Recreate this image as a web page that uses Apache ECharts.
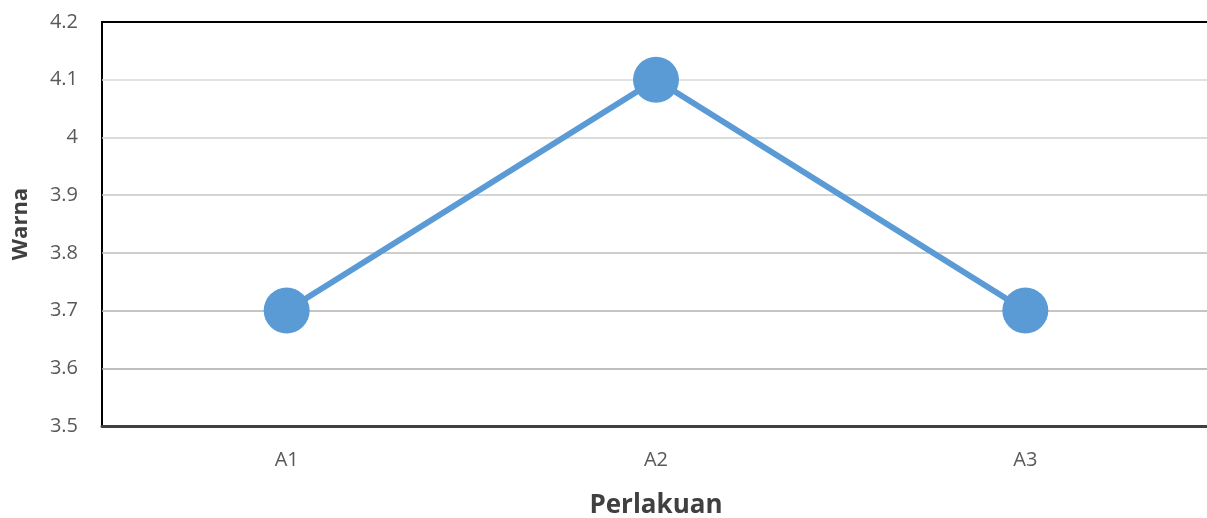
<!DOCTYPE html>
<html>
<head>
<meta charset="utf-8">
<script src="https://cdn.jsdelivr.net/npm/echarts@6/dist/echarts.min.js"></script>
<style>
  html, body { margin: 0; padding: 0; background: #fff; }
  #chart { width: 1207px; height: 518px; }
</style>
</head>
<body>
<div id="chart"></div>
<script>
const categories = ['A1', 'A2', 'A3'];
const warna = [3.7, 4.1, 3.7];
const yMin = 3.5;
const yMax = 4.2;
const yStep = 0.1;
// gridlines get darker towards the bottom, from 3.5 upwards
const gridColors = ['#a0a0a0', '#a8a8a8', '#b2b2b2', '#bcbcbc', '#c6c6c6', '#cfcfcf', '#d9d9d9', '#000000'];

const chart = echarts.init(document.getElementById('chart'));
const textColor = '#595959';
const fontFamily = '"Open Sans", "Noto Sans", sans-serif';

chart.setOption({
  animation: false,
  backgroundColor: '#fff',
  grid: {
    left: 102,
    top: 22,
    width: 1108,
    height: 404,
    outerBoundsMode: 'none',
    containLabel: false,
    show: true,
    borderColor: '#000',
    borderWidth: 2,
    backgroundColor: 'transparent'
  },
  xAxis: {
    type: 'category',
    data: categories,
    boundaryGap: true,
    name: 'Perlakuan',
    nameLocation: 'middle',
    nameGap: 67,
    nameTextStyle: { color: '#404040', fontSize: 26, fontWeight: 'bold', fontFamily },
    axisLine: { lineStyle: { color: '#404040', width: 3 } },
    axisTick: { show: false },
    axisLabel: { color: textColor, fontSize: 20, fontFamily, margin: 24 },
    splitLine: { show: false }
  },
  yAxis: {
    type: 'value',
    min: yMin,
    max: yMax,
    interval: yStep,
    name: 'Warna',
    nameLocation: 'middle',
    nameGap: 70,
    nameTextStyle: { color: '#404040', fontSize: 22, fontWeight: 'bold', fontFamily },
    axisLine: { show: false },
    axisTick: { show: false },
    axisLabel: {
      color: textColor,
      fontSize: 20,
      fontFamily,
      margin: 24,
      formatter: v => String(Math.round(v * 10) / 10)
    },
    splitLine: { show: true, lineStyle: { color: gridColors, width: 1.5 } }
  },
  series: [
    {
      name: 'Warna',
      type: 'line',
      data: warna,
      symbol: 'circle',
      symbolSize: 46,
      lineStyle: { color: '#5b9bd5', width: 6 },
      itemStyle: { color: '#5b9bd5' }
    }
  ]
});
</script>
</body>
</html>
